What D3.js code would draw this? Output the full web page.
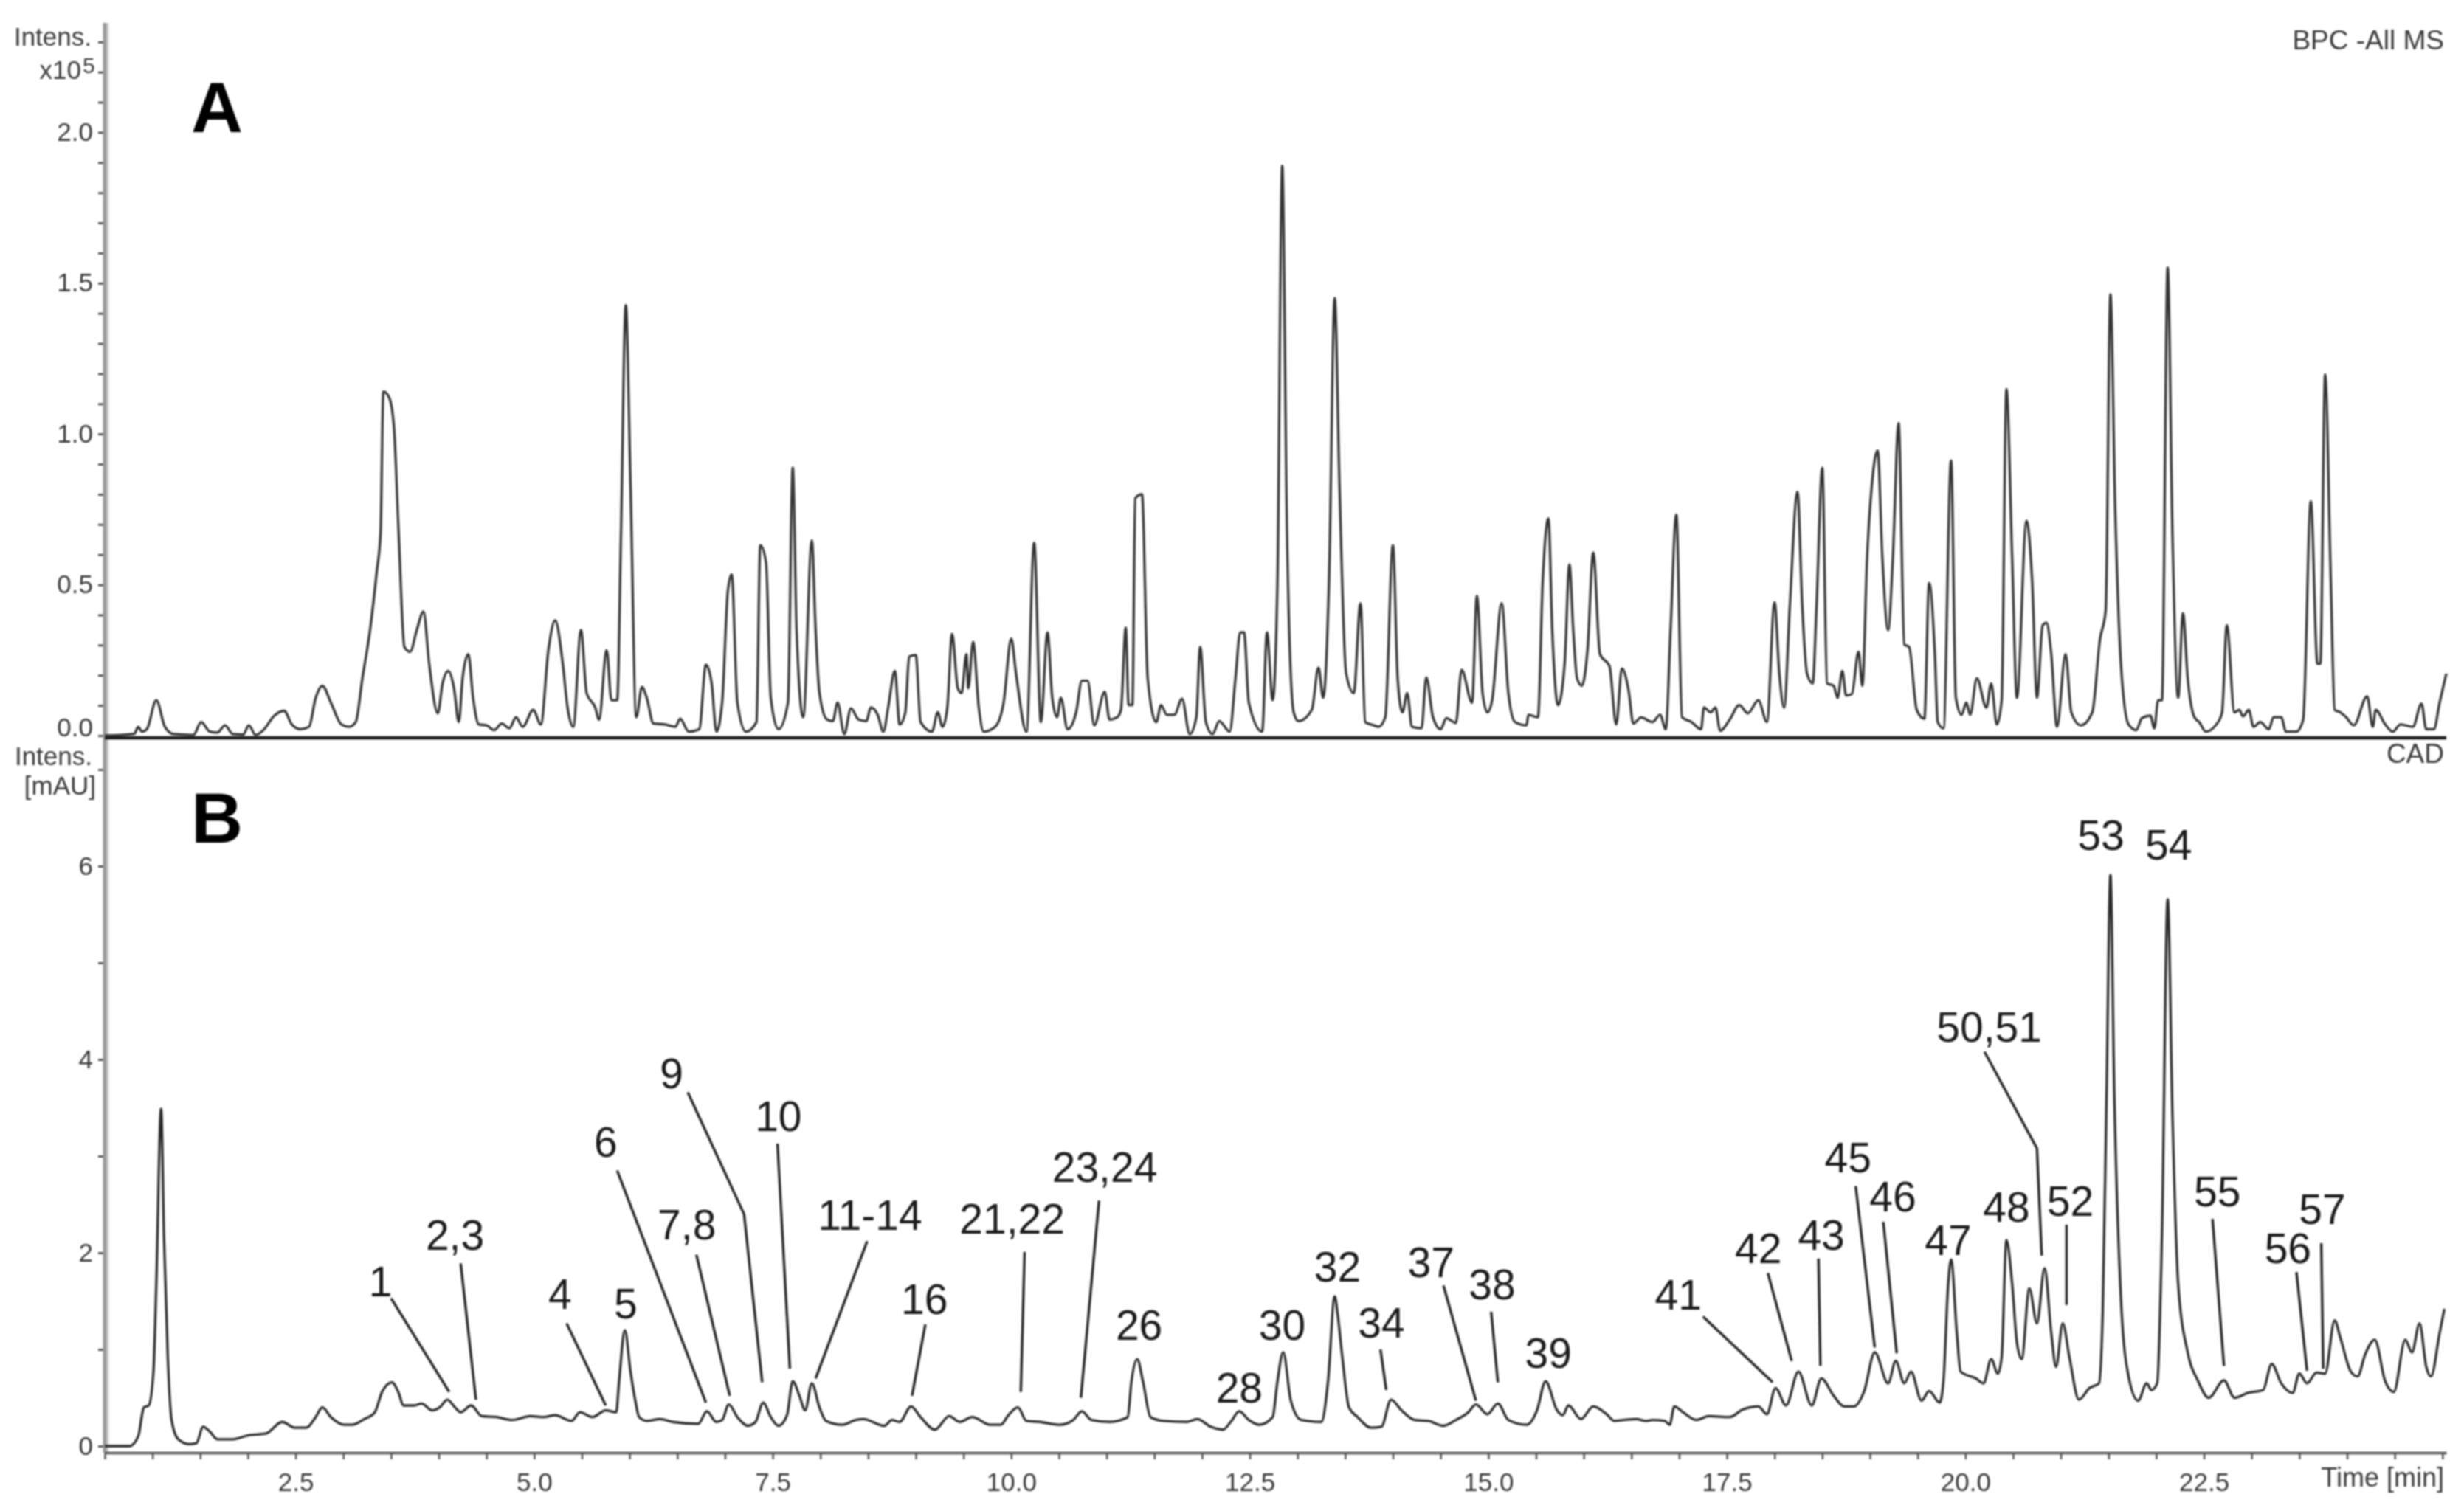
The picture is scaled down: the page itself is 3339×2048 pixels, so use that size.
<!DOCTYPE html>
<html lang="en">
<head>
<meta charset="utf-8">
<title>BPC and CAD chromatograms</title>
<script src="https://d3js.org/d3.v7.min.js"></script>
<style>
body { margin: 0; background: #fff; }
text { font-family: "Liberation Sans", Arial, sans-serif; }
</style>
</head>
<body>
<div id="container"></div>
<script>
// trace A, BPC -All MS (time in min, intensity x10^5)
var timesA = [0.5,0.81,0.85,0.89,0.94,1.04,1.13,1.22,1.43,1.51,1.6,1.68,1.76,1.84,1.95,2.01,2.08,2.17,2.27,2.38,2.46,2.55,2.64,2.71,2.78,2.87,2.98,3.06,3.13,3.2,3.28,3.35,3.39,3.42,3.48,3.53,3.58,3.64,3.7,3.77,3.84,3.9,3.99,4.04,4.1,4.16,4.21,4.25,4.31,4.36,4.42,4.5,4.58,4.66,4.74,4.81,4.88,4.99,5.07,5.15,5.22,5.3,5.35,5.41,5.49,5.55,5.64,5.68,5.76,5.81,5.87,5.91,5.96,6.01,6.07,6.13,6.18,6.25,6.37,6.48,6.53,6.62,6.73,6.8,6.86,6.91,6.97,7.03,7.07,7.13,7.22,7.33,7.37,7.43,7.48,7.56,7.66,7.71,7.75,7.82,
  7.91,7.95,7.99,8.07,8.13,8.18,8.25,8.32,8.4,8.48,8.53,8.6,8.66,8.71,8.78,8.83,8.89,8.93,9.0,9.05,9.17,9.23,9.28,9.33,9.38,9.44,9.48,9.53,9.55,9.6,9.66,9.71,9.83,9.92,10.0,10.05,10.16,10.24,10.31,10.38,10.43,10.48,10.52,10.59,10.68,10.74,10.8,10.87,10.98,11.03,11.11,11.15,11.2,11.23,11.27,11.3,11.37,11.43,11.52,11.57,11.63,11.71,11.79,11.87,11.94,11.98,12.04,12.11,12.18,12.29,12.35,12.4,12.44,12.49,12.63,12.68,12.74,12.79,12.84,12.89,12.96,13.01,13.15,13.22,13.27,13.33,13.39,13.44,13.51,13.59,13.66,13.71,13.8,13.85,13.92,14.0,14.05,14.1,14.15,14.2,14.3,14.35,14.42,14.5,14.56,14.66,14.72,14.83,14.88,14.94,14.99,15.04,15.14,15.21,15.28,15.4,15.42,15.52,15.57,15.63,15.67,15.73,15.8,15.85,15.89,15.93,15.98,16.04,16.1,16.17,16.27,16.34,16.4,16.47,16.52,16.6,
  16.72,16.8,16.86,16.91,16.97,17.03,17.13,17.23,17.26,17.33,17.38,17.43,17.53,17.63,17.72,17.83,17.92,18.0,18.05,18.1,18.16,18.24,18.29,18.34,18.4,18.44,18.5,18.55,18.62,18.66,18.71,18.75,18.81,18.88,18.92,18.97,19.02,19.08,19.13,19.19,19.24,19.3,19.36,19.41,19.49,19.57,19.62,19.68,19.71,19.77,19.85,19.9,19.96,20.01,20.05,20.12,20.22,20.27,20.33,20.38,20.43,20.49,20.54,20.64,20.7,20.75,20.81,20.85,20.9,20.96,21.05,21.11,21.21,21.33,21.41,21.47,21.52,21.57,21.63,21.71,21.79,21.85,21.94,21.98,22.02,22.06,22.12,22.17,22.23,22.28,22.33,22.4,22.45,22.52,22.63,22.69,22.74,22.82,22.87,22.91,22.97,23.02,23.09,23.18,23.23,23.31,23.36,23.47,23.54,23.62,23.69,23.72,23.77,23.83,23.87,23.93,23.99,24.07,24.21,24.27,24.3,24.4,24.48,24.56,24.69,24.78,24.83,24.91,24.97,25.04];
var intensA = [0,0.006,0.029,0.013,0.021,0.117,0.029,0.005,0.002,0.045,0.013,0.01,0.034,0.005,0.003,0.034,0.002,0.021,0.064,0.082,0.037,0.021,0.029,0.125,0.165,0.109,0.037,0.029,0.045,0.19,0.35,0.543,0.671,1.141,1.121,1.025,0.671,0.294,0.278,0.35,0.411,0.238,0.074,0.173,0.214,0.157,0.045,0.19,0.27,0.125,0.037,0.034,0.018,0.04,0.024,0.061,0.029,0.085,0.037,0.286,0.382,0.238,0.093,0.029,0.35,0.141,0.093,0.053,0.283,0.117,0.117,0.671,1.427,0.832,0.061,0.161,0.125,0.04,0.037,0.029,0.056,0.013,0.021,0.235,0.173,0.013,0.109,0.479,0.535,0.109,0.013,0.045,0.631,0.575,0.125,0.021,0.109,0.888,0.35,0.061,
  0.647,0.35,0.141,0.053,0.048,0.109,0.005,0.09,0.053,0.048,0.093,0.069,0.013,0.093,0.214,0.037,0.077,0.262,0.267,0.045,0.013,0.077,0.029,0.093,0.337,0.157,0.141,0.27,0.157,0.31,0.093,0.013,0.029,0.109,0.321,0.206,0.013,0.639,0.045,0.342,0.125,0.061,0.125,0.021,0.077,0.182,0.182,0.034,0.145,0.053,0.061,0.085,0.358,0.101,0.101,0.787,0.8,0.19,0.045,0.101,0.069,0.069,0.122,0.005,0.061,0.294,0.045,0.005,0.048,0.013,0.19,0.342,0.342,0.109,0.013,0.342,0.117,0.511,1.889,0.671,0.077,0.048,0.085,0.225,0.125,0.511,1.451,0.832,0.206,0.141,0.439,0.045,0.034,0.029,0.061,0.631,0.19,0.077,0.141,0.029,0.024,0.193,0.061,0.021,0.058,0.042,0.218,0.109,0.463,0.141,0.077,0.117,0.439,0.141,0.045,0.034,0.069,0.061,0.511,0.72,0.35,0.101,0.238,0.567,0.35,0.19,0.165,0.286,0.607,0.27,0.23,0.037,0.222,0.15,0.04,0.06,
  0.045,0.069,0.021,0.35,0.733,0.061,0.045,0.021,0.093,0.077,0.093,0.016,0.053,0.101,0.074,0.117,0.045,0.442,0.206,0.093,0.431,0.808,0.431,0.206,0.173,0.431,0.888,0.173,0.165,0.125,0.214,0.133,0.138,0.278,0.165,0.591,0.832,0.945,0.591,0.35,0.591,1.036,0.302,0.294,0.085,0.056,0.506,0.27,0.045,0.024,0.912,0.125,0.069,0.109,0.069,0.19,0.093,0.173,0.037,0.117,1.149,0.591,0.125,0.712,0.511,0.125,0.366,0.374,0.27,0.029,0.27,0.077,0.034,0.077,0.318,0.414,1.463,0.752,0.238,0.037,0.018,0.058,0.066,0.024,0.117,0.117,1.552,0.671,0.125,0.406,0.19,0.061,0.045,0.013,0.037,0.077,0.366,0.077,0.085,0.064,0.085,0.029,0.045,0.021,0.061,0.061,0.013,0.013,0.053,0.776,0.238,0.238,1.197,0.511,0.085,0.077,0.061,0.034,0.13,0.029,0.085,0.037,0.013,0.037,0.029,0.106,0.021,0.021,0.109,0.206];

// trace B, CAD (time in min, mAU)
var timesB = [0.5,0.76,0.85,0.91,0.96,1.01,1.04,1.09,1.12,1.16,1.2,1.27,1.38,1.46,1.53,1.6,1.68,1.84,2.0,2.19,2.36,2.49,2.61,2.71,2.78,2.87,3.01,3.09,3.22,3.33,3.41,3.51,3.58,3.63,3.74,3.82,3.93,4.01,4.09,4.17,4.23,4.34,4.45,4.61,4.77,4.96,5.1,5.22,5.39,5.48,5.61,5.75,5.86,5.89,5.95,6.01,6.06,6.1,6.18,6.32,6.45,6.72,6.81,6.91,6.97,7.04,7.13,7.24,7.32,7.4,7.48,7.56,7.65,7.71,7.78,7.84,
  7.91,7.99,8.06,8.23,8.37,8.45,8.67,8.75,8.83,8.95,9.05,9.2,9.35,9.46,9.59,9.78,9.89,9.97,10.07,10.16,10.3,10.51,10.65,10.74,10.84,11.03,11.22,11.26,11.32,11.38,11.46,11.6,11.84,11.95,12.09,12.22,12.3,12.39,12.49,12.6,12.74,12.79,12.85,12.93,13.04,13.25,13.32,13.39,13.42,13.47,13.54,13.63,13.77,13.88,13.98,14.09,14.23,14.37,14.53,14.66,14.79,14.87,14.99,15.1,15.21,15.4,15.51,15.6,15.72,15.78,15.84,15.97,16.1,16.24,16.32,16.42,16.55,16.65,
  16.72,16.85,16.9,16.95,17.04,17.18,17.31,17.53,17.67,17.83,17.92,18.01,18.12,18.25,18.39,18.49,18.62,18.73,18.83,18.94,19.05,19.19,19.27,19.36,19.43,19.54,19.62,19.73,19.77,19.82,19.85,19.91,19.95,20.11,20.19,20.27,20.34,20.38,20.43,20.49,20.54,20.59,20.67,20.75,20.83,20.9,20.95,21.02,21.09,21.19,21.3,21.4,21.44,21.48,21.52,21.56,21.63,21.71,21.81,21.9,21.95,22.01,22.06,22.12,22.17,22.23,22.33,22.44,22.55,22.71,22.82,22.96,23.12,23.21,23.31,23.43,23.5,23.58,23.68,23.77,23.87,23.93,24.04,24.11,24.19,24.29,24.4,24.49,24.61,24.68,24.76,24.83,24.88,24.97,25.02];
var intensB = [0,0,0.1,0.4,0.42,0.77,1.68,3.49,2.18,0.92,0.27,0.07,0.02,0.03,0.2,0.15,0.07,0.07,0.11,0.13,0.25,0.19,0.19,0.3,0.4,0.3,0.22,0.22,0.28,0.35,0.57,0.66,0.55,0.42,0.42,0.44,0.37,0.4,0.48,0.4,0.35,0.42,0.31,0.3,0.27,0.31,0.3,0.32,0.26,0.35,0.3,0.37,0.35,0.67,1.2,0.77,0.47,0.3,0.26,0.28,0.25,0.23,0.36,0.25,0.27,0.43,0.3,0.21,0.25,0.45,0.3,0.21,0.32,0.67,0.52,0.37,
  0.65,0.4,0.26,0.22,0.27,0.28,0.21,0.27,0.25,0.41,0.3,0.17,0.31,0.25,0.3,0.22,0.22,0.32,0.4,0.26,0.25,0.22,0.27,0.36,0.27,0.25,0.3,0.67,0.9,0.67,0.3,0.26,0.25,0.28,0.2,0.17,0.25,0.36,0.27,0.22,0.3,0.67,0.97,0.47,0.27,0.25,0.67,1.55,1.37,0.92,0.4,0.3,0.19,0.2,0.48,0.37,0.27,0.26,0.21,0.27,0.35,0.43,0.33,0.44,0.27,0.22,0.37,0.67,0.37,0.32,0.42,0.28,0.41,0.33,0.26,0.27,0.28,0.26,
  0.27,0.26,0.22,0.41,0.35,0.27,0.31,0.3,0.38,0.41,0.33,0.6,0.42,0.77,0.42,0.7,0.52,0.41,0.41,0.57,0.97,0.65,0.88,0.65,0.77,0.47,0.57,0.45,0.67,1.68,1.93,1.17,0.77,0.7,0.65,0.9,0.75,0.92,2.13,1.68,1.07,0.9,1.63,1.27,1.84,1.17,0.82,1.27,0.92,0.48,0.6,0.65,1.42,3.68,5.91,3.68,1.53,0.72,0.47,0.65,0.58,0.65,2.18,5.66,3.43,1.68,0.97,0.67,0.5,0.68,0.5,0.55,0.58,0.85,0.65,0.55,0.75,0.65,0.76,0.75,1.3,1.12,0.77,0.72,0.95,1.1,0.67,0.56,1.1,0.97,1.27,0.82,0.72,1.17,1.42];

// tick labels
var xLabelled = [2.5,5,7.5,10,12.5,15,17.5,20,22.5];
var yLabelledA = [0,0.5,1,1.5,2];
var yLabelledB = [0,2,4,6];

// peak labels: text, centre time, baseline intensity (panel B units)
var peakNames = ["1","2,3","4","5","6","7,8","9","10","11-14","16","21,22","23,24","26","28","30","32","34","37","38","39","41","42","43","45","46","47","48","50,51","52","53","54","55","56","57"];
var peakTimes = [3.39,4.17,5.27,5.96,5.75,6.6,6.44,7.56,8.52,9.09,10.01,10.98,11.34,12.39,12.84,13.42,13.88,14.4,15.04,15.63,16.99,17.83,18.49,18.77,19.24,19.82,20.43,20.25,21.1,21.42,22.13,22.64,23.38,23.74];
var peakLevels = [1.55,2.03,1.42,1.32,2.99,2.14,3.7,3.26,2.24,1.37,2.2,2.73,1.1,0.45,1.1,1.7,1.12,1.75,1.52,0.81,1.41,1.89,2.03,2.83,2.43,1.98,2.32,4.18,2.38,6.17,6.07,2.48,1.89,2.3];

// leader lines as [time, intensity] runs in panel B
var leaders = [
  [[3.5,1.53],[4.11,0.56]],
  [[4.23,1.89],[4.39,0.48]],
  [[5.34,1.27],[5.75,0.42]],
  [[5.87,2.85],[6.8,0.45]],
  [[6.7,1.98],[7.05,0.52]],
  [[6.61,3.66],[7.2,2.4],[7.39,0.66]],
  [[7.55,3.13],[7.68,0.8]],
  [[8.49,2.12],[7.95,0.7]],
  [[9.1,1.26],[8.96,0.52]],
  [[10.14,2.01],[10.1,0.56]],
  [[10.92,2.54],[10.73,0.5]],
  [[13.87,1.0],[13.93,0.58]],
  [[14.53,1.66],[14.87,0.47]],
  [[15.03,1.39],[15.1,0.66]],
  [[17.25,1.34],[17.98,0.66]],
  [[17.93,1.79],[18.18,0.88]],
  [[18.46,1.94],[18.48,0.83]],
  [[18.85,2.69],[19.05,1.02]],
  [[19.14,2.32],[19.28,0.96]],
  [[20.2,4.08],[20.75,3.08],[20.8,1.97]],
  [[21.06,2.29],[21.06,1.46]],
  [[22.59,2.35],[22.71,0.83]],
  [[23.47,1.8],[23.58,0.78]],
  [[23.73,2.1],[23.75,0.8]]
];

var w = 3339, h = 2048;
var axisFont = 35, peakFont = 57;
var axisCol = "#3a3a3a";

// the source is a soft, upscaled scan
var svg = d3.select("#container").append("svg")
  .attr("width", w).attr("height", h)
  .style("display", "block").style("background", "#fff").style("filter", "blur(0.9px)");

var x = d3.scaleLinear().domain([0.5, 25.04]).range([142, 3315]);
var yA = d3.scaleLinear().domain([0, 2.363]).range([997, 31]);
var yB = d3.scaleLinear().domain([-0.0687, 7.336]).range([1969, 999]);

// y axes
function leftAxis(scale, values, labelled, fmt) {
  var g = svg.append("g").attr("transform", "translate(142,0)")
    .call(d3.axisLeft(scale).tickValues(values).tickSize(9).tickPadding(7)
      .tickFormat(function(d) {
        return labelled.some(function(v) { return Math.abs(v - d) < 1e-6; }) ? fmt(d) : "";
      }));
  g.select(".domain").remove();
  g.selectAll(".tick line").attr("stroke", axisCol).attr("stroke-width", 2.5);
  g.selectAll(".tick text").attr("fill", axisCol).style("font-size", axisFont + "px")
    .style("font-family", '"Liberation Sans", Arial, sans-serif');
  return g;
}
var gyA = leftAxis(yA, d3.range(0, 24).map(function(i) { return i / 10; }), yLabelledA, d3.format(".1f"));
leftAxis(yB, d3.range(0, 8), yLabelledB, d3.format("d"));
// the 0.0 label sits above its tick, clear of the Intens. below it
gyA.selectAll(".tick text").filter(function(d) { return d === 0; }).attr("dy", "0");

// continuous grey spine shared by both panels
svg.append("line").attr("x1", 144).attr("x2", 144).attr("y1", yA.range()[1]).attr("y2", yB.range()[0])
  .attr("stroke", "#d0d0d0").attr("stroke-width", 7);
svg.append("line").attr("x1", 142).attr("x2", 142).attr("y1", yA.range()[1]).attr("y2", yB.range()[0])
  .attr("stroke", "#999").attr("stroke-width", 5);

// x axis under panel B
var gx = svg.append("g").attr("transform", "translate(0,1969)")
  .call(d3.axisBottom(x).tickValues(d3.range(1, 51).map(function(i) { return i / 2; }))
    .tickSize(9).tickPadding(18).tickSizeOuter(0)
    .tickFormat(function(d) { return xLabelled.indexOf(d) >= 0 ? d3.format(".1f")(d) : ""; }));
gx.select(".domain").attr("stroke", "#555").attr("stroke-width", 3.5);
gx.selectAll(".tick line").attr("stroke", "#555").attr("stroke-width", 2.5);
gx.selectAll(".tick text").attr("fill", axisCol).style("font-size", axisFont + "px")
  .style("font-family", '"Liberation Sans", Arial, sans-serif');

// panel A baseline
svg.append("line").attr("x1", 142).attr("x2", 3315).attr("y1", 1000).attr("y2", 1000)
  .attr("stroke", "#1c1c1c").attr("stroke-width", 4.5);

// traces
var lineA = d3.line().x(function(d) { return x(d[0]); }).y(function(d) { return yA(d[1]); }).curve(d3.curveMonotoneX);
var lineB = d3.line().x(function(d) { return x(d[0]); }).y(function(d) { return yB(d[1]); }).curve(d3.curveMonotoneX);
var leaderLine = d3.line().x(function(d) { return x(d[0]); }).y(function(d) { return yB(d[1]); });
svg.append("path").datum(d3.zip(timesA, intensA)).attr("d", lineA)
  .attr("fill", "none").attr("stroke", "#333").attr("stroke-width", 3.3).attr("stroke-linejoin", "round");
svg.append("path").datum(d3.zip(timesB, intensB)).attr("d", lineB)
  .attr("fill", "none").attr("stroke", "#2a2a2a").attr("stroke-width", 3.3).attr("stroke-linejoin", "round");

// peak annotations
svg.append("g").selectAll("path").data(leaders).enter().append("path")
  .attr("d", leaderLine).attr("fill", "none").attr("stroke", "#222").attr("stroke-width", 3.4);
svg.append("g").selectAll("text").data(peakNames).enter().append("text")
  .attr("x", function(d, i) { return x(peakTimes[i]); })
  .attr("y", function(d, i) { return yB(peakLevels[i]); })
  .attr("text-anchor", "middle").attr("fill", "#1a1a1a")
  .style("font-size", peakFont + "px").text(function(d) { return d; });

// panel letters
svg.append("text").attr("x", 259).attr("y", 179).attr("font-weight", "bold").attr("fill", "#000")
  .style("font-size", "97px").text("A");
svg.append("text").attr("x", 259).attr("y", 1142).attr("font-weight", "bold").attr("fill", "#000")
  .style("font-size", "97px").text("B");

// axis captions
function caption(str, xp, yp, anchor) {
  return svg.append("text").attr("x", xp).attr("y", yp).attr("text-anchor", anchor || "end")
    .attr("fill", axisCol).style("font-size", axisFont + "px").text(str);
}
caption("Intens.", 124, 62);
caption("x10", 110, 107);
svg.append("text").attr("x", 112).attr("y", 99).attr("fill", axisCol)
  .style("font-size", "30px").text("5");
caption("Intens.", 125, 1037);
caption("[mAU]", 130, 1077);
caption("BPC -All MS", 3312, 67).style("font-size", "37px");
caption("CAD", 3312, 1034).style("font-size", "37px");
caption("Time [min]", 3312, 2015).style("font-size", "36px");
</script>
</body>
</html>
